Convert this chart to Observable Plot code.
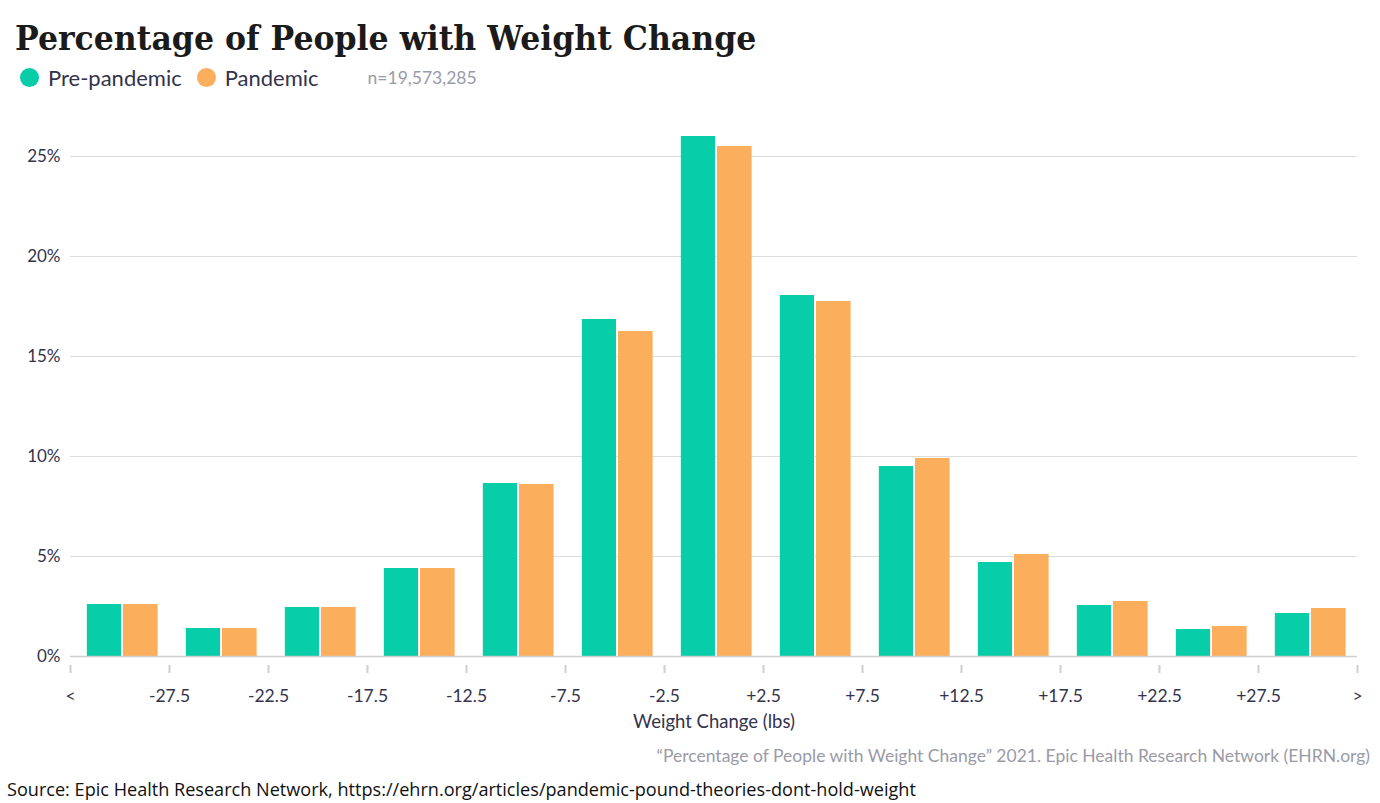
<!DOCTYPE html>
<html>
<head>
<meta charset="utf-8">
<script src="https://cdn.jsdelivr.net/npm/d3@7"></script>
<script src="https://cdn.jsdelivr.net/npm/@observablehq/plot@0.6"></script>
<style>
  body { margin: 0; background: #fff; width: 1380px; height: 803px; position: relative; overflow: hidden; font-family: Lato, sans-serif; }
  #title { position: absolute; left: 15px; top: 18px; font-family: "DejaVu Serif", serif; font-weight: bold; font-size: 34px; color: #1b1b1b; white-space: nowrap; transform: scaleX(0.928); transform-origin: left top; }
  #legend { position: absolute; left: 20px; top: 64px; font-size: 22px; color: #33334d; display: flex; align-items: center; white-space: nowrap; }
  .dot { width: 19px; height: 19px; border-radius: 50%; display: inline-block; margin-right: 9px; }
  .item { display: flex; align-items: center; margin-right: 15px; }
  #n { color: #999aa8; font-size: 17.5px; margin-left: 34px; }
  #chart { position: absolute; left: 0; top: 100px; }
  #credit { position: absolute; right: 10px; top: 745px; font-size: 17.5px; color: #9a9aa6; white-space: nowrap; }
  #source { position: absolute; left: 7px; top: 777px; font-family: "Open Sans", sans-serif; font-size: 18.1px; color: #111; white-space: nowrap; }
</style>
</head>
<body>
<div id="title">Percentage of People with Weight Change</div>
<div id="legend">
  <span class="item"><span class="dot" style="background:#07cda9"></span>Pre-pandemic</span>
  <span class="item"><span class="dot" style="background:#fbae5b"></span>Pandemic</span>
  <span id="n">n=19,573,285</span>
</div>
<div id="chart"></div>
<div id="credit">“Percentage of People with Weight Change” 2021. Epic Health Research Network (EHRN.org)</div>
<div id="source">Source: Epic Health Research Network, https://ehrn.org/articles/pandemic-pound-theories-dont-hold-weight</div>
<script>
const tickLabels = ["<", "-27.5", "-22.5", "-17.5", "-12.5", "-7.5", "-2.5", "+2.5", "+7.5", "+12.5", "+17.5", "+22.5", "+27.5", ">"];
const prePandemic = [2.6, 1.4, 2.45, 4.4, 8.65, 16.85, 26.0, 18.05, 9.5, 4.7, 2.55, 1.35, 2.15];
const pandemic    = [2.6, 1.4, 2.45, 4.4, 8.6, 16.25, 25.5, 17.75, 9.9, 5.1, 2.75, 1.5, 2.4];
const seriesNames = ["Pre-pandemic", "Pandemic"];
const colors = ["#07cda9", "#fbae5b"];

const data = [];
prePandemic.forEach((v, i) => data.push({bin: i, series: seriesNames[0], value: v, k: 0}));
pandemic.forEach((v, i) => data.push({bin: i, series: seriesNames[1], value: v, k: 1}));

const ink = "#33334d";
const chart = Plot.plot({
  width: 1380,
  height: 640,
  marginLeft: 70,
  marginRight: 23,
  marginTop: 16,
  marginBottom: 84,
  style: {fontFamily: "Lato, sans-serif", fontSize: "17px", color: ink, background: "transparent"},
  x: {domain: [0, 13]},
  y: {domain: [0, 27]},
  color: {domain: seriesNames, range: colors},
  marks: [
    Plot.gridY([5, 10, 15, 20, 25], {stroke: "#dcdcdc", strokeOpacity: 1, strokeWidth: 1}),
    Plot.rectY(data, {
      x1: d => d.bin + (d.k === 0 ? 0.17 : 0.535),
      x2: d => d.bin + (d.k === 0 ? 0.515 : 0.885),
      y: "value",
      fill: "series"
    }),
    Plot.ruleY([0], {stroke: "#d0d0d0", strokeWidth: 1.5}),
    Plot.axisY([0, 5, 10, 15, 20, 25], {tickSize: 0, tickPadding: 10, tickFormat: d => d + "%", fill: ink, fontSize: 17, label: null}),
    Plot.axisX(d3.range(14), {tickSize: 8, dy: 9, tickPadding: 16, tickFormat: i => tickLabels[i], stroke: "#cfcfcf", strokeWidth: 2, fill: ink, fontSize: 17.5, label: null}),
    Plot.text(["Weight Change (lbs)"], {frameAnchor: "bottom", dy: 71, fill: ink, fontSize: 18.5})
  ]
});
document.getElementById("chart").appendChild(chart);
</script>
</body>
</html>
